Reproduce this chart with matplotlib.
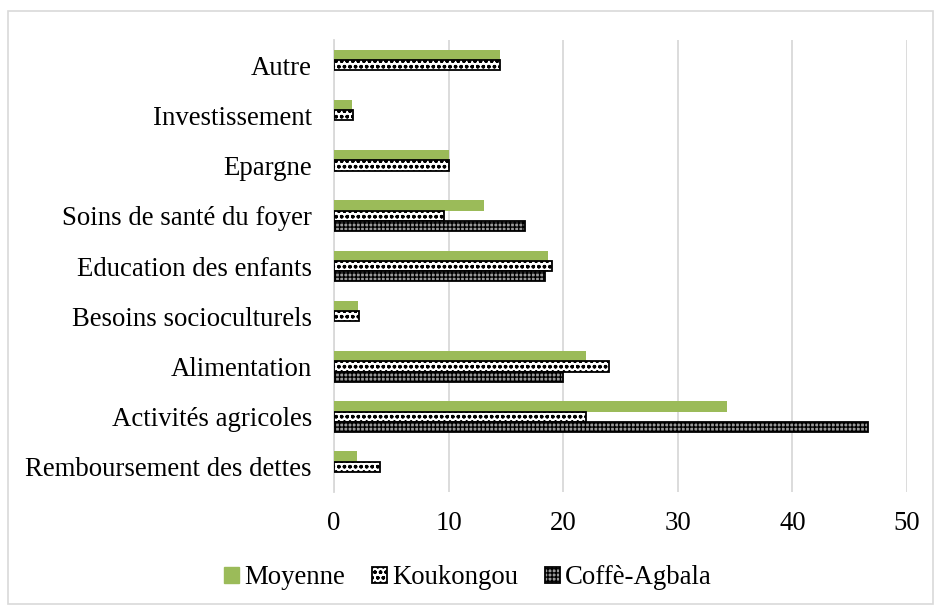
import matplotlib
matplotlib.use("Agg")
import matplotlib.pyplot as plt
import numpy as np
from matplotlib.patches import Rectangle, Patch

categories = ["Remboursement des dettes", "Activités agricoles", "Alimentation",
              "Besoins socioculturels", "Education des enfants", "Soins de santé du foyer",
              "Epargne", "Investissement", "Autre"]
moyenne = [2.0, 34.3, 22.0, 2.1, 18.7, 13.1, 10.0, 1.6, 14.5]
koukongou = [4.0, 22.0, 24.0, 2.2, 19.0, 9.6, 10.0, 1.7, 14.5]
coffe = [0, 46.6, 20.0, 0, 18.4, 16.7, 0, 0, 0]
series_names = ["Moyenne", "Koukongou", "Coffè-Agbala"]
xticks = [0, 10, 20, 30, 40, 50]

plt.rcParams['font.family'] = ['Liberation Serif', 'DejaVu Serif']
plt.rcParams['hatch.linewidth'] = 1.0

fig = plt.figure(figsize=(9.36, 6.07), dpi=100)
ax = fig.add_axes([334/936, 1-492/607, (907-334)/936, (492-40)/607])

y = np.arange(len(categories))
h = 0.205
green = '#9bbb59'
fs = 19.3
kstyle = dict(facecolor='white', edgecolor='black', hatch='ooo', linewidth=1.3)
cstyle = dict(facecolor='#9a9a9a', edgecolor='black', hatch='++++', linewidth=1.3)

ax.barh(y + h, moyenne, height=h, color=green, zorder=3)
ax.barh(y, koukongou, height=h, zorder=3, **kstyle)
cb = ax.barh(y - h, coffe, height=h, zorder=3, **cstyle)
for b, v in zip(cb, coffe):
    if v == 0:
        b.set_visible(False)

ax.set_ylim(-0.5, len(categories) - 0.5)
ax.set_xlim(0, 50)
ax.set_xticks(xticks)
ax.set_yticks(y)
ax.set_yticklabels(categories, fontsize=fs)
ax.tick_params(axis='x', labelsize=fs, length=0, pad=14)
ax.tick_params(axis='y', length=0, pad=16)
ax.grid(axis='x', color='#d9d9d9', linewidth=1.3, zorder=0)
for s in ['top', 'right', 'bottom']:
    ax.spines[s].set_visible(False)
ax.spines['left'].set_color('#d9d9d9')
ax.spines['left'].set_linewidth(1.3)

handles = [Patch(facecolor=green, edgecolor=green),
           Patch(**kstyle), Patch(**cstyle)]
fig.legend(handles, series_names, loc='center', bbox_to_anchor=(0.5, 1-578/607), ncol=3,
           frameon=False, fontsize=fs, handlelength=0.55, handleheight=0.55,
           handletextpad=0.2, columnspacing=1.0)

fig.patches.append(Rectangle((8/936, 3/607), (933-8)/936, (596-3)/607, transform=fig.transFigure,
                             fill=False, edgecolor='#d9d9d9', linewidth=1.2))

fig.savefig('out.png', dpi=100)
